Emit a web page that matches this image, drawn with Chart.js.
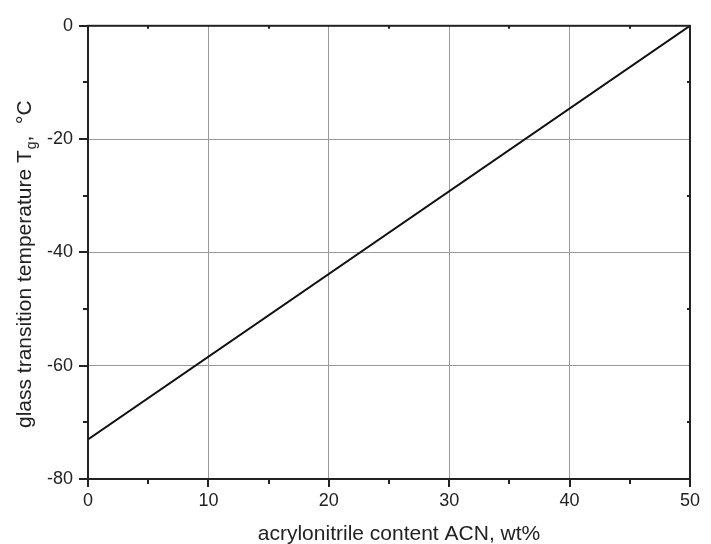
<!DOCTYPE html>
<html>
<head>
<meta charset="utf-8">
<script src="https://cdn.jsdelivr.net/npm/chart.js@4/dist/chart.umd.min.js"></script>
<style>
  html, body { margin: 0; padding: 0; background: #fff; }
  #wrap { width: 711px; height: 544px; }
</style>
</head>
<body>
<div id="wrap"><canvas id="tgChart" width="711" height="544"></canvas></div>
<script>
// ACN content (wt%) vs glass transition temperature (°C)
const acnContent = [0, 50];
const tgValues = [-73, 0];

const xTicks = [0, 10, 20, 30, 40, 50];
const yTicks = [-80, -60, -40, -20, 0];

const xTitle = "acrylonitrile content ACN, wt%";
const yTitleMain = "glass transition temperature T";
const yTitleSub = "g";
const yTitleEnd = ",  °C";

const FONT = "'Liberation Sans', Arial, sans-serif";

// frame + tick marks + axis titles
const framePlugin = {
  id: "frame",
  afterDraw(chart) {
    const { ctx, chartArea: a, scales } = chart;
    const xs = scales.x, ys = scales.y;
    ctx.save();
    ctx.strokeStyle = "#222";
    ctx.lineWidth = 2;
    ctx.strokeRect(a.left, a.top, a.right - a.left, a.bottom - a.top);

    ctx.beginPath();
    for (let v = 0; v <= 50; v += 5) {
      const px = Math.round(xs.getPixelForValue(v));
      const major = v % 10 === 0;
      ctx.moveTo(px, a.bottom);
      ctx.lineTo(px, a.bottom + (major ? 8 : 5));
      if (!major) {
        ctx.moveTo(px, a.top);
        ctx.lineTo(px, a.top + 3);
      }
    }
    for (let v = -80; v <= 0; v += 10) {
      const py = Math.round(ys.getPixelForValue(v));
      const major = v % 20 === 0;
      ctx.moveTo(a.left, py);
      ctx.lineTo(a.left - (major ? 9 : 5), py);
      if (!major) {
        ctx.moveTo(a.right, py);
        ctx.lineTo(a.right - 3, py);
      }
    }
    ctx.stroke();

    ctx.fillStyle = "#222";
    ctx.font = "21px " + FONT;
    ctx.textAlign = "center";
    ctx.textBaseline = "alphabetic";
    ctx.fillText(xTitle, 399, 540);

    ctx.translate(31, 428);
    ctx.rotate(-Math.PI / 2);
    ctx.textAlign = "left";
    ctx.fillText(yTitleMain, 0, 0);
    let off = ctx.measureText(yTitleMain).width;
    ctx.font = "14px " + FONT;
    ctx.fillText(yTitleSub, off + 1, 5);
    off += ctx.measureText(yTitleSub).width + 1;
    ctx.font = "21px " + FONT;
    ctx.fillText(yTitleEnd, off, 0);
    ctx.restore();
  }
};

new Chart(document.getElementById("tgChart"), {
  type: "scatter",
  data: {
    datasets: [{
      data: acnContent.map((x, i) => ({ x: x, y: tgValues[i] })),
      showLine: true,
      borderColor: "#111",
      borderWidth: 2,
      pointRadius: 0,
      fill: false
    }]
  },
  options: {
    responsive: false,
    animation: false,
    layout: { padding: { left: 0, top: 22, right: 11, bottom: 0 } },
    plugins: { legend: { display: false }, tooltip: { enabled: false } },
    scales: {
      x: {
        type: "linear",
        min: 0,
        max: 50,
        afterFit: (s) => { s.height = 65; },
        afterBuildTicks: (s) => { s.ticks = xTicks.map((v) => ({ value: v })); },
        grid: { color: "#999", lineWidth: 1, drawTicks: false },
        border: { display: false },
        ticks: { color: "#222", font: { family: FONT, size: 18 }, padding: 11, maxRotation: 0 }
      },
      y: {
        type: "linear",
        min: -80,
        max: 0,
        afterFit: (s) => { s.width = 88; },
        afterBuildTicks: (s) => { s.ticks = yTicks.map((v) => ({ value: v })); },
        grid: { color: "#999", lineWidth: 1, drawTicks: false },
        border: { display: false },
        ticks: { color: "#222", font: { family: FONT, size: 18 }, padding: 15 }
      }
    }
  },
  plugins: [framePlugin]
});
</script>
</body>
</html>
